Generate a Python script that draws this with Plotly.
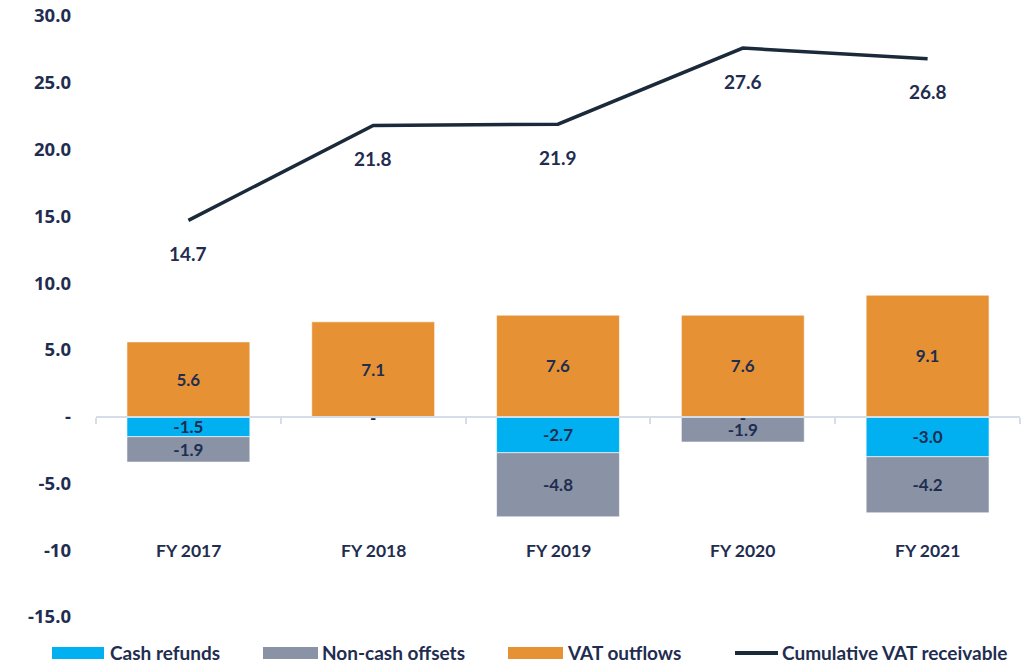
import plotly.graph_objects as go

categories = ["FY 2017", "FY 2018", "FY 2019", "FY 2020", "FY 2021"]
cash_refunds = [-1.5, 0.0, -2.7, 0.0, -3.0]
non_cash_offsets = [-1.9, 0.0, -4.8, -1.9, -4.2]
vat_outflows = [5.6, 7.1, 7.6, 7.6, 9.1]
cumulative_vat = [14.7, 21.8, 21.9, 27.6, 26.8]

y_tickvals = [30, 25, 20, 15, 10, 5, 0, -5, -10, -15]
y_ticktext = ["30.0", "25.0", "20.0", "15.0", "10.0", "5.0", "-", "-5.0", "-10", "-15.0"]

C_CASH = "#00B0F0"
C_NONCASH = "#8A93A5"
C_VAT = "#E69234"
C_LINE = "#1B2A3A"
C_TEXT = "#1F2D50"
FAM = "Lato, 'Liberation Sans', sans-serif"
BAR_FONT = dict(family=FAM, size=17, color=C_TEXT, weight="bold")
LINE_FONT = dict(family=FAM, size=19, color=C_TEXT, weight="bold")
CAT_FONT = dict(family=FAM, size=17.5, color=C_TEXT, weight="bold")
LEG_FONT = dict(family=FAM, size=19, color=C_TEXT, weight="bold")

def lab(v):
    return "-" if v == 0 else f"{v:.1f}"

fig = go.Figure()
bw = 0.665
for name, vals, col in [("Cash refunds", cash_refunds, C_CASH),
                        ("Non-cash offsets", non_cash_offsets, C_NONCASH),
                        ("VAT outflows", vat_outflows, C_VAT)]:
    fig.add_trace(go.Bar(x=categories, y=vals, name=name, marker_color=col,
                         marker_line=dict(color="rgba(255,255,255,0.6)", width=1), width=bw,
                         text=[lab(v) if v != 0 else "" for v in vals], textposition="inside",
                         insidetextanchor="middle", textangle=0, textfont=BAR_FONT,
                         constraintext="none"))

# zero-value labels ("-") for cash refunds, just under the zero line
ZERO_LABEL_Y = -0.2
zero_x = [c for c, v in zip(categories, cash_refunds) if v == 0]
fig.add_trace(go.Scatter(x=zero_x, y=[ZERO_LABEL_Y] * len(zero_x), mode="text",
                         text=["-"] * len(zero_x), textposition="middle center",
                         textfont=BAR_FONT, showlegend=False, hoverinfo="skip"))

fig.add_trace(go.Scatter(x=categories, y=cumulative_vat, name="Cumulative VAT receivable",
                         mode="lines", line=dict(color=C_LINE, width=3.5)))

for c, v in zip(categories, cumulative_vat):
    fig.add_annotation(x=c, y=v, text=f"{v:.1f}", showarrow=False, yshift=-33, font=LINE_FONT)

for c in categories:
    fig.add_annotation(x=c, y=-10, text=c, showarrow=False, font=CAT_FONT)

# page body margin is removed below, so figure coordinates = screen coordinates
W, H = 1028, 671
L, R, T, B = 96, 1020, 16, 617

def px(xp):
    return (xp - L) / (R - L)

def py(yp):
    return (B - yp) / (B - T)

legend_items = [
    ("Cash refunds", C_CASH, "box", 52, 104, 110),
    ("Non-cash offsets", C_NONCASH, "box", 263, 318, 322),
    ("VAT outflows", C_VAT, "box", 508, 563, 567),
    ("Cumulative VAT receivable", C_LINE, "line", 735, 778, 782),
]
ly = 653
for name, col, kind, x0, x1, tx in legend_items:
    if kind == "box":
        fig.add_shape(type="rect", xref="paper", yref="paper", x0=px(x0), x1=px(x1),
                      y0=py(ly + 6), y1=py(ly - 6), fillcolor=col, line=dict(width=0))
    else:
        fig.add_shape(type="line", xref="paper", yref="paper", x0=px(x0), x1=px(x1),
                      y0=py(ly), y1=py(ly), line=dict(color=col, width=4))
    fig.add_annotation(xref="paper", yref="paper", x=px(tx), y=py(ly - 1), text=name,
                       showarrow=False, xanchor="left", yanchor="middle", xshift=-2,
                       font=LEG_FONT)

fig.update_layout(
    width=W, height=H,
    margin=dict(l=L, r=W - R, t=T, b=H - B, autoexpand=False),
    barmode="relative",
    plot_bgcolor="white", paper_bgcolor="white",
    showlegend=False,
    xaxis=dict(type="category", range=[-0.5, 4.5], showgrid=False, showticklabels=False,
               showline=True, linecolor="#D5DEE8", linewidth=2, anchor="free",
               position=15 / 45, ticks="outside", tickson="boundaries", ticklen=6,
               tickcolor="#D5DEE8", tickwidth=2, zeroline=False, automargin=False),
    yaxis=dict(range=[-15, 30], tickvals=y_tickvals, ticktext=y_ticktext, showgrid=False,
               zeroline=False, showline=False, ticks="", ticklabelstandoff=24,
               ticklabeloverflow="allow", automargin=False,
               tickfont=dict(family="'Open Sans', sans-serif", size=18.5, color=C_TEXT,
                             weight="bold")),
)

fig.write_html("out.html", config={"displayModeBar": False},
               post_script="document.body.style.margin='0';document.body.style.overflow='hidden';")
